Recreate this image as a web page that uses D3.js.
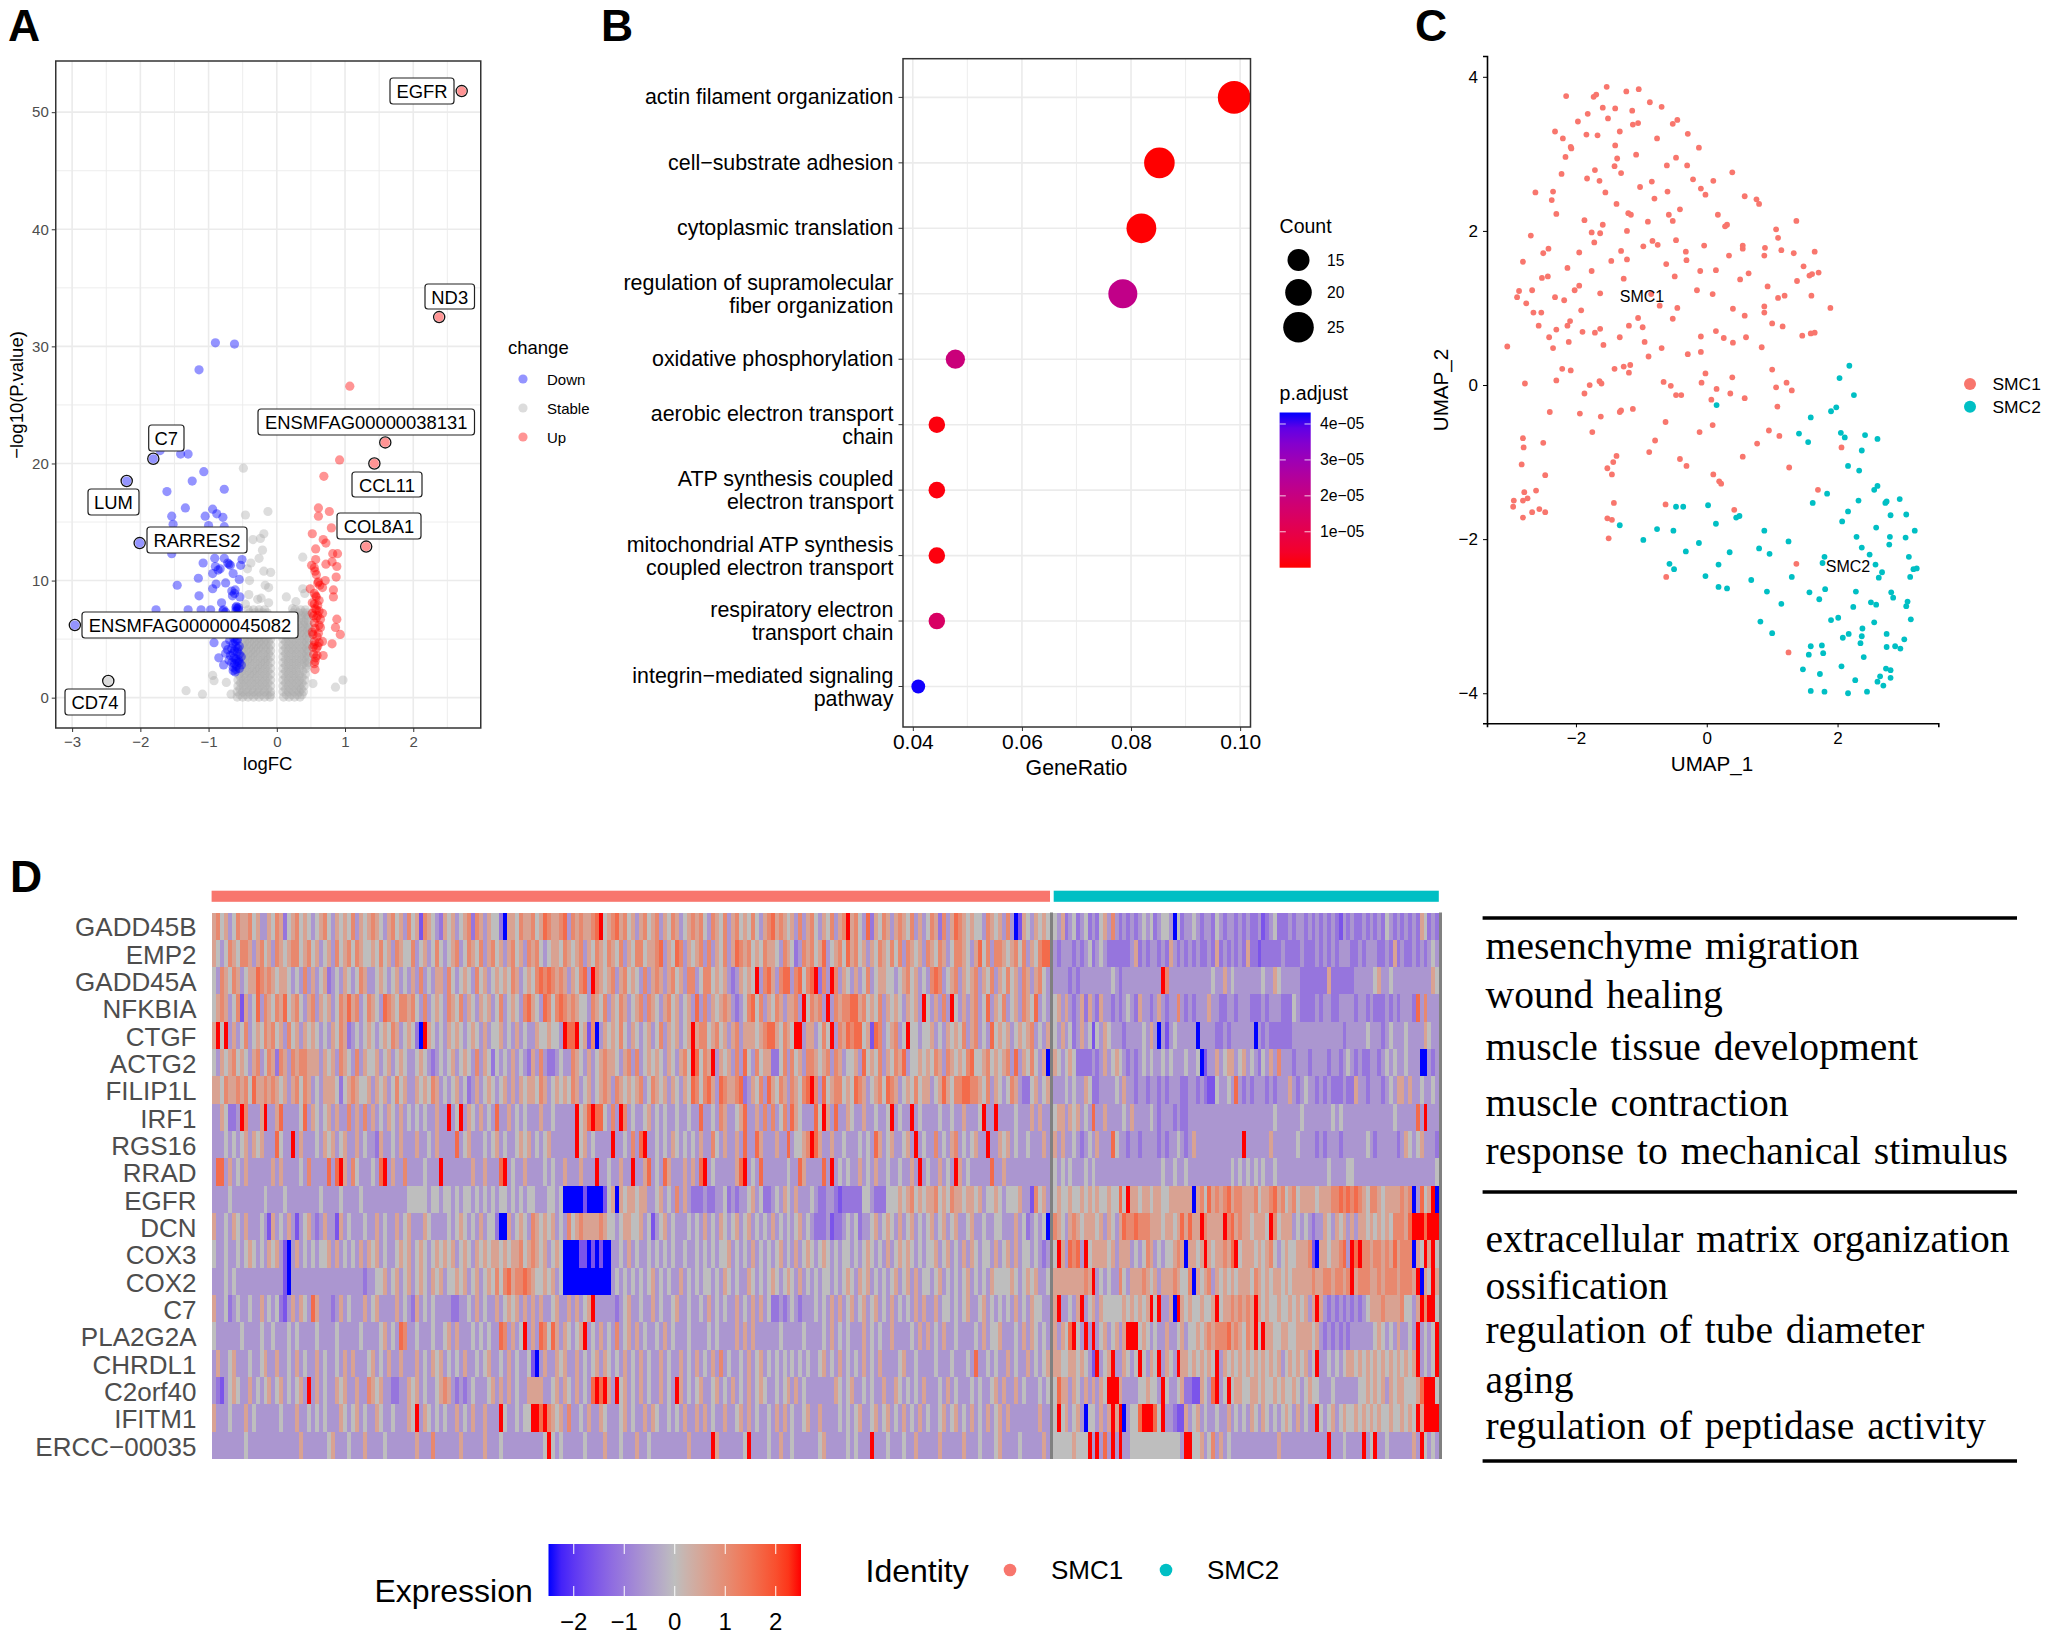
<!DOCTYPE html>
<html lang="en">
<head>
<meta charset="UTF-8">
<title>SMC panels</title>
<script src="https://d3js.org/d3.v7.min.js"></script>
<style>
    body { margin: 0; background: white; }
    svg { display: block; }
    text { font-family: "Liberation Sans", Arial, sans-serif; }
</style>
</head>
<body>
<svg id="fig" width="2050" height="1638"></svg>
<script>
// panel A: volcano, [logFC, -log10 p]
const volcanoDown = [[-0.90,30.3],[-0.62,30.2],[-1.14,28.0],[-1.71,21.1],[-1.41,20.8],[-1.30,20.8],[-1.07,19.3],[-1.24,18.5],[-0.77,17.8],[-1.61,17.6],[-1.34,16.2],[-0.94,16.1],[-0.88,15.7],[-1.05,15.5],[-1.54,15.5],[-0.79,15.4],[-1.52,14.8],[-1.00,14.7],[-0.77,14.6],[-1.54,12.3],[-0.91,11.9],[-0.77,11.9],[-0.51,11.8],[-1.08,11.5],[-0.90,11.2],[-0.70,11.4],[-0.53,11.3],[-0.94,10.6],[-0.64,10.6],[-1.15,10.2],[-0.55,10.1],[-1.46,9.6],[-0.89,9.7],[-0.75,9.8],[-0.94,9.3],[-0.61,9.2],[-0.65,8.7],[-1.14,8.7],[-0.54,8.6],[-0.81,8.1],[-0.59,7.8],[-1.77,7.5],[-1.30,7.5],[-1.11,7.5],[-0.97,7.5],[-0.78,7.5],[-0.58,7.6],[-0.92,4.7],[-0.75,4.5],[-0.61,4.8],[-0.55,4.4],[-0.75,3.8],[-0.64,3.8],[-0.85,3.4],[-0.52,3.5],[-0.70,3.2],[-0.58,3.1],[-0.78,2.8],[-0.64,2.6],[-0.52,2.8],[-0.61,2.2],
    [-0.83,11.0],[-0.86,10.9],[-0.68,11.3],[-0.72,11.5],[-0.66,9.1],[-0.62,8.9],[-0.60,7.7],[-0.56,7.7],[-0.60,7.4],[-0.56,7.5],[-0.79,7.4],[-0.75,7.3],[-0.58,4.9],[-0.64,4.6],[-0.60,4.4],[-0.57,4.2],[-0.66,4.2],[-0.62,4.0],[-0.58,3.9],[-0.55,3.7],[-0.68,3.6],[-0.63,3.4],[-0.60,3.3],[-0.56,3.2],[-0.66,3.0],[-0.62,2.9],[-0.59,2.7],[-0.55,2.5],[-0.60,2.4],[-0.64,2.3],[-0.58,5.0],[-0.63,5.1],[-0.69,4.9],[-0.72,4.1],[-0.55,3.0]];
const volcanoUp = [[1.07,26.6],[0.92,20.3],[0.69,18.9],[0.61,16.2],[0.77,15.9],[0.61,15.5],[0.80,14.5],[0.52,14.0],[0.68,13.5],[0.72,13.2],[0.57,12.7],[0.89,12.3],[0.82,12.3],[0.57,11.8],[0.81,11.6],[0.72,11.4],[0.51,11.3],[0.88,11.2],[0.56,10.8],[0.87,10.3],[0.61,9.9],[0.71,10.0],[0.49,9.3],[0.67,9.4],[0.55,8.9],[0.83,9.2],[0.83,8.6],[0.58,8.6],[0.52,8.1],[0.58,7.5],[0.67,7.2],[0.52,7.2],[0.58,6.8],[0.88,6.7],[0.64,6.0],[0.86,6.0],[0.52,5.6],[0.61,5.5],[0.93,5.4],[0.67,4.8],[0.81,4.6],[0.55,4.5],[0.60,4.4],[0.68,3.6],[0.57,3.4],[0.55,2.9],[0.56,2.4],
    [0.55,11.1],[0.58,10.5],[0.60,9.8],[0.63,9.6],[0.57,8.7],[0.62,8.3],[0.55,8.0],[0.60,7.9],[0.56,7.6],[0.62,7.4],[0.54,7.0],[0.60,7.0],[0.64,6.7],[0.55,6.4],[0.62,6.2],[0.56,5.9],[0.53,5.4],[0.59,5.2],[0.55,4.8],[0.62,4.7],[0.53,4.3],[0.58,4.2],[0.54,3.7],[0.59,3.6],[0.56,3.1]];
const volcanoStable = [[-0.49,19.6],[-0.13,15.9],[-0.46,15.6],[-0.19,14.0],[-0.24,13.6],[-0.35,13.5],[-0.21,12.6],[-0.26,11.9],[0.38,12.0],[-0.38,11.5],[-0.43,11.0],[-0.19,10.8],[-0.09,10.7],[-0.40,10.0],[-0.17,9.6],[-0.12,9.4],[-0.23,8.5],[-0.12,8.1],[-0.41,8.8],[-0.28,8.4],[-0.46,8.0],[0.14,8.6],[0.28,8.2],[0.38,9.3],[0.41,8.9],[0.23,7.6],[-0.94,1.9],[-0.92,1.45],[-0.74,1.3],[-1.33,0.6],[-1.09,0.3],[0.97,1.5],[0.86,0.9],[0.53,1.2],[-0.67,0.3]];
const stableLeftRows = [
    [0.05,-0.58,-0.50,-0.42,-0.34,-0.26,-0.18,-0.10],[0.25,-0.54,-0.46,-0.38,-0.30,-0.22,-0.14,-0.09],[0.5,-0.58,-0.50,-0.42,-0.34,-0.26,-0.18,-0.09],[0.75,-0.54,-0.45,-0.37,-0.29,-0.21,-0.13],
    [1,-0.57,-0.49,-0.41,-0.33,-0.25,-0.17,-0.09],[1.25,-0.53,-0.45,-0.37,-0.29,-0.21,-0.13],[1.5,-0.57,-0.49,-0.41,-0.33,-0.25,-0.17,-0.09],[1.75,-0.53,-0.45,-0.37,-0.29,-0.21,-0.13],
    [2,-0.56,-0.48,-0.40,-0.33,-0.25,-0.17,-0.09],[2.25,-0.52,-0.44,-0.36,-0.29,-0.21,-0.13],[2.5,-0.55,-0.48,-0.40,-0.32,-0.25,-0.17,-0.09],[2.75,-0.51,-0.44,-0.36,-0.28,-0.21,-0.13],
    [3,-0.54,-0.47,-0.40,-0.32,-0.24,-0.17,-0.09],[3.25,-0.50,-0.43,-0.36,-0.28,-0.20,-0.13],[3.5,-0.53,-0.46,-0.39,-0.32,-0.24,-0.16,-0.09],[3.75,-0.49,-0.42,-0.35,-0.28,-0.20,-0.12],
    [4,-0.52,-0.45,-0.38,-0.31,-0.24,-0.16,-0.09],[4.25,-0.48,-0.41,-0.34,-0.27,-0.20,-0.12],[4.5,-0.50,-0.44,-0.37,-0.30,-0.23,-0.16,-0.09],[4.75,-0.47,-0.40,-0.33,-0.26,-0.19,-0.12],
    [5,-0.49,-0.43,-0.36,-0.29,-0.23,-0.16,-0.09],[5.25,-0.45,-0.38,-0.32,-0.25,-0.19,-0.12],[5.5,-0.47,-0.41,-0.35,-0.28,-0.22,-0.16,-0.10],[5.75,-0.43,-0.37,-0.31,-0.24,-0.18,-0.12],
    [6,-0.46,-0.40,-0.34,-0.27,-0.21,-0.15,-0.10],[6.25,-0.42,-0.36,-0.30,-0.23,-0.17,-0.12],[6.5,-0.45,-0.38,-0.32,-0.26,-0.20,-0.15],[6.75,-0.41,-0.34,-0.28,-0.22,-0.16],
    [7,-0.44,-0.36,-0.30,-0.24,-0.18,-0.12],[7.25,-0.40,-0.32,-0.26,-0.20,-0.14],[7.5,-0.42,-0.34,-0.26,-0.18]];
const stableRightRows = [
    [0.05,0.10,0.18,0.26,0.34],[0.25,0.14,0.22,0.30,0.37],[0.5,0.09,0.17,0.25,0.33,0.39],[0.75,0.13,0.21,0.29,0.36],
    [1,0.09,0.17,0.25,0.33,0.40],[1.25,0.13,0.21,0.29,0.37],[1.5,0.09,0.17,0.25,0.33,0.41],[1.75,0.13,0.21,0.29,0.37],
    [2,0.09,0.17,0.25,0.33,0.42],[2.25,0.13,0.21,0.29,0.38],[2.5,0.09,0.17,0.25,0.33,0.43],[2.75,0.13,0.21,0.29,0.37,0.44],
    [3,0.09,0.17,0.25,0.33,0.41,0.46],[3.25,0.13,0.21,0.29,0.37,0.44],[3.5,0.09,0.17,0.25,0.33,0.41,0.46],[3.75,0.13,0.21,0.29,0.37,0.44],
    [4,0.09,0.17,0.25,0.33,0.41,0.46],[4.25,0.13,0.21,0.29,0.37,0.44],[4.5,0.09,0.17,0.25,0.33,0.41,0.47],[4.75,0.13,0.21,0.29,0.37,0.44],
    [5,0.09,0.17,0.25,0.33,0.41,0.47],[5.25,0.13,0.21,0.29,0.37,0.44],[5.5,0.10,0.18,0.26,0.34,0.41,0.47],[5.75,0.14,0.22,0.30,0.38,0.45],
    [6,0.12,0.20,0.28,0.35,0.42,0.47],[6.25,0.16,0.24,0.32,0.39,0.45],[6.5,0.15,0.24,0.32,0.40,0.46],[6.75,0.19,0.28,0.36,0.43],
    [7,0.20,0.28,0.36,0.42,0.46],[7.25,0.24,0.32,0.39,0.44],[7.5,0.27,0.35,0.42]];
const volcanoNames = ["EGFR","ND3","ENSMFAG00000038131","CCL11","COL8A1","C7","LUM","RARRES2","ENSMFAG00000045082","CD74"];
const volcanoNameX = [2.71,2.38,1.59,1.43,1.31,-1.81,-2.20,-2.01,-2.96,-2.47];
const volcanoNameY = [51.8,32.5,21.8,20.0,12.9,20.4,18.5,13.2,6.2,1.42];
const volcanoNameGroup = ["Up","Up","Up","Up","Up","Down","Down","Down","Down","Stable"];
const changeLevels = ["Down","Stable","Up"];

// panel B: enrichment
const goTerms = [["actin filament organization"],["cell\u2212substrate adhesion"],["cytoplasmic translation"],["regulation of supramolecular","fiber organization"],["oxidative phosphorylation"],["aerobic electron transport","chain"],["ATP synthesis coupled","electron transport"],["mitochondrial ATP synthesis","coupled electron transport"],["respiratory electron","transport chain"],["integrin\u2212mediated signaling","pathway"]];
const goRatio = [0.0989,0.0852,0.0819,0.0785,0.0478,0.0444,0.0444,0.0444,0.0444,0.0410];
const goCount = [29,25,24,23,14,13,13,13,13,12];
const goPadj = [0,0,0.02e-5,2.15e-5,1.9e-5,0.1e-5,0.1e-5,0.1e-5,1.45e-5,4.3e-5];
const countLegend = [15,20,25];
const padjTicks = [1e-5,2e-5,3e-5,4e-5];

// panel C: UMAP
const umapSmc1 = [[-1.53,3.87],[-1.04,3.84],[-1.23,3.81],[-2.15,3.75],[-1.69,3.77],[-1.73,3.74],[-0.87,3.67],[-0.69,3.61],[-1.59,3.60],[-1.40,3.59],[-1.14,3.56],[-1.82,3.52],[-1.51,3.46],[-1.97,3.42],[-0.45,3.44],[-0.52,3.39],[-1.05,3.40],[-1.13,3.38],[-1.33,3.29],[-2.32,3.29],[-1.84,3.25],[-1.67,3.24],[-0.29,3.26],[-2.20,3.20],[-0.76,3.20],[-1.40,3.11],[-0.12,3.08],[-2.08,3.09],[-2.07,3.07],[-1.08,2.99],[-2.16,2.96],[-1.37,2.94],[-0.47,2.95],[-0.61,2.85],[-0.30,2.85],[-1.41,2.84],[-1.71,2.79],[-1.31,2.75],[-2.22,2.74],[0.39,2.76],[-1.83,2.68],[-1.64,2.65],[-0.21,2.67],[0.10,2.65],[-0.84,2.64],[-1.02,2.57],[-0.09,2.55],[-2.62,2.50],[-2.35,2.51],[-1.55,2.50],[-0.60,2.51],[-0.02,2.47],[0.58,2.45],[-0.80,2.42],[0.76,2.41],[-2.37,2.40],[0.80,2.35],[-1.38,2.35],[-0.41,2.28],[-2.30,2.22],[-1.20,2.23],[-1.16,2.21],[-0.58,2.21],[0.17,2.21],[-1.87,2.14],[-0.52,2.13],[-0.90,2.12],[1.37,2.13],[-1.59,2.08],[0.31,2.08],[0.28,2.06],[1.06,2.02],[-1.22,2.00],[-1.76,1.98],[-1.63,1.97],[-2.69,1.94],[1.09,1.91],[-1.72,1.85],[-0.47,1.88],[-0.83,1.87],[-0.75,1.82],[-0.04,1.81],[-0.97,1.80],[0.55,1.81],[0.55,1.77],[0.89,1.78],[-2.42,1.77],[-1.31,1.74],[1.14,1.75],[-0.32,1.73],[1.65,1.73],[-1.95,1.72],[1.33,1.71],[-2.50,1.71],[0.34,1.68],[0.88,1.68],[-1.22,1.63],[-0.31,1.62],[-1.46,1.61],[-2.81,1.60],[-0.62,1.57],[1.48,1.54],[-2.13,1.52],[0.14,1.49],[-0.10,1.48],[-1.76,1.48],[1.71,1.46],[0.64,1.45],[1.61,1.44],[1.57,1.42],[-0.49,1.41],[-2.52,1.39],[-2.43,1.41],[-1.27,1.38],[0.51,1.37],[1.38,1.35],[-1.95,1.29],[0.93,1.28],[-2.02,1.23],[-2.67,1.23],[-0.15,1.23],[-2.87,1.22],[-1.63,1.19],[-0.85,1.18],[0.09,1.18],[1.19,1.16],[1.60,1.16],[-2.90,1.14],[-2.32,1.14],[1.09,1.13],[-2.18,1.10],[-2.76,1.06],[-0.72,1.03],[0.88,1.02],[-0.45,1.00],[1.89,1.00],[0.40,0.99],[-1.92,0.97],[-2.65,0.94],[-2.53,0.94],[0.88,0.94],[0.58,0.90],[-1.05,0.87],[-0.52,0.86],[-2.09,0.83],[1.00,0.80],[-2.57,0.77],[-1.19,0.77],[-2.13,0.77],[1.16,0.76],[-0.98,0.75],[-1.63,0.73],[-2.30,0.72],[0.14,0.70],[-1.90,0.69],[-1.71,0.68],[1.65,0.68],[1.59,0.67],[1.46,0.64],[-2.41,0.62],[-1.33,0.62],[-0.09,0.63],[0.26,0.61],[0.60,0.62],[-0.95,0.56],[0.40,0.55],[-2.11,0.56],[-1.58,0.52],[-3.05,0.50],[-2.35,0.48],[0.84,0.49],[-0.69,0.48],[-0.09,0.43],[-0.29,0.40],[-0.89,0.37],[-1.17,0.26],[-1.27,0.24],[-2.21,0.21],[-1.41,0.21],[1.00,0.20],[-2.08,0.19],[-1.19,0.16],[-0.02,0.15],[0.39,0.10],[-2.30,0.06],[-1.64,0.05],[-1.61,0.02],[-2.78,0.02],[-0.66,0.04],[-0.08,0.03],[1.22,0.03],[-1.79,0.00],[-0.55,-0.01],[1.06,-0.03],[0.15,-0.05],[1.30,-0.07],[0.36,-0.11],[-1.87,-0.11],[-0.47,-0.13],[-0.39,-0.13],[0.07,-0.19],[0.58,-0.17],[1.08,-0.28],[-1.13,-0.31],[-1.31,-0.33],[-1.33,-0.35],[-2.40,-0.35],[-1.94,-0.37],[-1.62,-0.41],[-0.63,-0.48],[0.09,-0.52],[0.95,-0.59],[-1.75,-0.61],[-0.11,-0.61],[1.11,-0.66],[-2.81,-0.69],[-0.79,-0.72],[-2.50,-0.75],[0.77,-0.76],[2.06,-0.81],[-2.80,-0.81],[-0.88,-0.87],[0.55,-0.93],[-1.38,-0.92],[-0.41,-0.96],[-1.43,-1.00],[-2.83,-1.03],[-0.31,-1.05],[1.26,-1.07],[-1.52,-1.08],[-1.45,-1.16],[-2.47,-1.17],[0.10,-1.16],[0.19,-1.25],[0.22,-1.28],[1.70,-1.36],[-2.61,-1.37],[-2.79,-1.39],[-2.74,-1.47],[-2.95,-1.50],[-2.81,-1.50],[-1.42,-1.53],[-0.63,-1.55],[-2.96,-1.58],[0.42,-1.62],[-2.56,-1.61],[-2.67,-1.65],[-2.47,-1.65],[-2.81,-1.72],[-1.52,-1.73],[-1.45,-1.75],[-1.50,-1.99],[1.37,-2.32],[-0.62,-2.49],[1.25,-3.47]];
const umapSmc2 = [[2.18,0.25],[2.03,0.09],[2.25,-0.13],[0.15,-0.26],[1.98,-0.29],[1.90,-0.34],[1.59,-0.42],[2.05,-0.62],[1.41,-0.63],[2.11,-0.68],[2.42,-0.65],[2.61,-0.70],[1.55,-0.74],[2.37,-0.85],[2.16,-1.05],[2.33,-1.11],[2.61,-1.31],[2.56,-1.36],[1.84,-1.41],[2.32,-1.50],[2.95,-1.48],[2.75,-1.51],[2.73,-1.53],[1.62,-1.53],[-0.47,-1.58],[-0.36,-1.58],[0.02,-1.56],[2.16,-1.64],[3.05,-1.68],[2.81,-1.69],[0.50,-1.70],[0.45,-1.72],[2.07,-1.77],[0.14,-1.80],[-1.33,-1.82],[-0.76,-1.87],[-0.51,-1.89],[2.59,-1.85],[0.88,-1.89],[3.18,-1.89],[2.29,-1.97],[2.80,-1.97],[3.04,-1.98],[-0.97,-2.01],[-0.12,-2.05],[1.25,-2.03],[2.79,-2.07],[2.37,-2.11],[0.80,-2.12],[-0.32,-2.16],[0.35,-2.17],[0.96,-2.19],[2.49,-2.20],[3.09,-2.23],[1.80,-2.23],[1.77,-2.31],[-0.57,-2.32],[0.18,-2.33],[2.58,-2.33],[-0.50,-2.39],[3.21,-2.38],[3.16,-2.39],[2.68,-2.43],[-0.02,-2.48],[2.63,-2.50],[3.11,-2.49],[1.30,-2.49],[0.68,-2.53],[0.18,-2.62],[0.31,-2.64],[1.81,-2.65],[0.92,-2.68],[1.57,-2.69],[2.28,-2.68],[2.82,-2.69],[2.85,-2.76],[1.72,-2.78],[1.14,-2.84],[2.51,-2.82],[2.59,-2.85],[3.07,-2.81],[3.05,-2.87],[2.24,-2.88],[2.01,-3.02],[1.90,-3.05],[3.12,-3.04],[0.82,-3.07],[2.56,-3.08],[2.38,-3.16],[1.00,-3.22],[2.75,-3.23],[2.17,-3.23],[2.08,-3.28],[2.37,-3.26],[3.02,-3.30],[2.35,-3.35],[1.76,-3.38],[1.59,-3.39],[2.75,-3.40],[2.88,-3.39],[2.96,-3.42],[1.78,-3.48],[1.56,-3.50],[2.40,-3.53],[2.06,-3.65],[2.74,-3.68],[2.81,-3.70],[1.47,-3.69],[1.73,-3.75],[2.65,-3.78],[2.81,-3.80],[2.27,-3.83],[2.61,-3.85],[2.70,-3.90],[1.59,-3.97],[1.80,-3.98],[2.45,-3.98],[2.16,-4.00]];

// panel D: heatmap, one digit per cell, see heatLevels
const heatGenes = ["GADD45B","EMP2","GADD45A","NFKBIA","CTGF","ACTG2","FILIP1L","IRF1","RGS16","RRAD","EGFR","DCN","COX3","COX2","C7","PLA2G2A","CHRDL1","C2orf40","IFITM1","ERCC\u221200035"];
const heatLevels = [-2.5,-1.6,-1.1,-0.6,0,0.6,1.1,1.6,2.5];
const heatSmc1 = [
"5645346556 4533546524 5645434564 3545463545 6543564536 4516543254 5345626535 4420554655 6457655673 6565567845 6756453564 5635465345 6564365463 5645464356 7565453635 6435463568 5643725465 3565463534 6526357654 5443654536 3015435454",
"5434654665 3564536545 6645645345 3645646544 5464536544 6345346434 5634654635 6453564536 5643455465 4563546546 5463546645 5673547635 4563635463 5765645465 5436542365 6457345647 5645354654 6463654536 5465346654 3574636654 5646354677",
"4365465345 5765654554 3436353452 3435434653 3454345343 5363435536 4345436453 4545465345 4676765653 5467386545 6356454363 5653564536 6346645453 2354548367 5367736746 7826386354 3534634554 4345645343 6763456354 5635463546 4536535643",
"4565346153 4736546574 5643563545 3465756346 5437654665 6436345436 5463543545 3463454367 5437646765 6544365463 5465345636 5435645345 3736354565 3234674635 4653556384 6563836566 7756454635 4543545384 3536384353 5634735463 4536547343",
"5848353463 4546564536 4535454343 5465234345 4345465345 4208543435 4543454353 4453435343 3544544387 7845160354 5464354345 3463545345 8566456453 5635554567 7546548835 5346483657 6774517634 5634844344 5343545463 5634374545 3454563435",
"4354564543 5634652653 6566555354 5365436354 4534534543 3454323434 5345436354 2434353432 5363223433 6543534565 5435636345 4543543564 8746583545 3637436455 2246364536 6545636534 4537454635 4657344545 4653654546 7445645456 3735464350",
"5546556564 7556565453 5646534355 5424565445 3545346453 3545465343 4534235345 4345353545 5465345454 6534534565 3654545634 6545354354 7646753765 5672354637 5465365467 8637456645 4765345647 6534546455 3457546677 6654635434 6532245345",
"3354223863 3358335733 3347354345 3533635363 5343543534 3434335338 3483543534 3733534343 3353343333 3845787743 6386343345 3434334334 3373343653 3457335363 6346375433 3748537335 4335334334 8343383433 3343343353 3348338333 3433353533",
"3334343453 5453337433 8353334354 5345335343 3253343533 3533435333 3734533343 4534334545 3434533333 3845343333 8334363783 3434354343 4353364353 3537337533 3533734456 8753353343 3343437534 5334538343 3634356343 4533833545 3433433353",
"3773534353 3333353533 3343633337 3785364333 4378353363 3334333833 3333353353 3378343353 3334343353 3353338334 3353383357 3437533353 5378343333 3578343733 3333433753 3337383434 3353435334 3343353834 3353438534 3333373353 3333333333",
"3333433333 3334333343 3333333433 3343333433 3333333334 4444344344 3434434343 4344343434 4333443400 0001000014 5054554553 3453436353 2223223342 3233453422 3435435333 4322332122 2224432224 4454564545 5645465545 5453445434 4453316453",
"5334354353 3343153435 3134532353 3153433343 3534335345 3335433334 3454343534 4200534543 6545453436 4565555654 4345544534 1345343334 3435343543 4534534343 5343434534 3222312234 3423345345 4353453434 5345345334 5334334433 3534234340",
"4334334345 4343545310 3534343445 3534343535 4534334545 3454345454 5345435454 5545455645 6545345400 0011010100 3343534334 3434343343 3434343445 3434353434 3453435345 4345434344 3434543435 3454543434 4534534353 5434435345 3534434323",
"3334343333 3333333310 3333333333 3333333323 3445345345 3454354534 4545345345 4646756676 5445453400 0000000000 3434343434 5343433534 3434434354 3433543434 5434543534 3434434345 4354534343 4534535344 3453434345 3434354444 5434545334",
"5334234334 3353434213 5354375333 2353433353 4533335343 2534343333 2233435343 3534545353 5353345335 3534583333 3234533433 5343345334 3343534343 3534353534 2232343233 3434353534 5345345343 5343435353 3534434345 3345343434 3534354433",
"4333333433 3343343334 3433334333 3433333433 3345343763 3433343345 3533343434 3376353483 5376475354 3458343534 3634535343 3435343334 3333434333 3535353333 3343333343 3334353434 3335343433 5333343535 3435334333 3435344533 3435354343",
"3533453334 3345335334 3534335343 3435353334 5343533533 3534354534 3435334345 3343534334 1035335453 3534345354 3435343534 3353433534 3534353634 3343534534 3434343434 3345343534 3435343533 3345334333 3433343334 3733434335 3433534345",
"3213454335 3434534534 3453835343 3545335336 5453322335 4534334565 3232343334 5353534335 5553345354 3534378785 3845343534 3353438534 3453345343 5343534543 3434535343 3333335434 5334343353 3543434353 3343534333 4343345353 3534333434",
"5333433353 4333333433 3533434343 3354345343 3543343335 4835434343 3534353353 3384334344 8878654536 3343533543 3345343353 5433434353 3535343353 3453534334 3535343345 3353333434 3453345345 3435343534 3345345343 5343534535 3333333533",
"3333333343 3333333333 3353333334 5333433353 3334333333 3533363333 3353333353 3343333333 3334843433 3334333353 3343335334 3333333335 3333385333 3334833334 3353343333 3345333334 3433383334 3334335333 3353333353 3343334533 3343333353"];
const heatSmc2 = [
"4352342342 3245363232 3234342344 3042334323 3243233232 3223123422 2323323232 3232132322 3232324323 2323254232",
"3233323234 2343222222 3523233232 5323232322 3252323232 5221222223 2222322232 3232333223 2333223252 3223232343",
"3333232333 3333343233 3333333386 3333333333 3433534333 3333433543 3333222222 2522222233 3334533433 3333333354",
"4535323525 3253323234 3253323532 3363232333 5332233233 3222323332 2243222232 3322333323 3232223232 3332736333",
"4353423534 1435433323 3334353031 3433333033 3322323333 3303232222 2233333333 3333323333 3433323433 3433335433",
"5434542222 3235345432 3234343343 4333433401 3353455345 3432435363 3323332333 3233234323 2233234343 3433300323",
"3334343354 2233334353 3233233232 3332233232 1143343732 3233323233 3532343323 2322232253 3233323435 5353343343",
"4553545343 7335333343 5333343233 3232233333 3333333333 3333333433 3333433333 3343433333 3333333343 3333738333",
"5353343234 3533374332 3323333232 3343235333 3333333338 3333335333 3334333323 2333233333 3432333332 3543453332",
"4343433343 4333333333 3333333343 3433433333 3333334343 4343433433 3333333333 3433334433 3333333333 3333333334",
"4544544545 4544544748 5545545544 5555550564 7565675665 5564556756 4564555545 5566767676 5466545555 6560374580",
"6543565455 5453543576 6766655545 5457575586 5555867565 5455548645 5534343233 5435453535 5454545466 6578887888",
"4853767384 5555453555 3434653434 4565055458 5455657845 5545456434 5445556105 5455673878 6656656575 6660548584",
"5555555565 8343433643 5556545355 5654460545 6354545455 5465454554 5455555655 6656656856 6655656665 6665805485",
"5833435834 5354444454 5454584833 5085454454 4584556565 6585454454 4545453585 3232323232 3455565555 6443586884",
"5354784383 8345345358 8845434335 3345344545 6566675654 6584855445 5445555453 2323232333 3334543435 3343834348",
"5544554543 1834583354 3484354835 4385545454 5483545454 5454545453 4545453483 3434345545 4545454545 4545834348",
"4755354353 5354888533 3344544384 3345221154 3783484554 4554544545 4454345443 3343333334 4545453545 5444578884",
"4845345304 4353585803 4478887483 3211534534 3343353434 3543543434 5435343384 3453454454 5454544544 5454858888",
"4444454448 3837383833 4444444444 4443884453 4635343333 3333333353 3333333333 3833343333 8348334333 3335384343"];
const expressionTicks = [-2,-1,0,1,2];
const pathwaysUpper = ["mesenchyme migration","wound healing","muscle tissue development","muscle contraction","response to mechanical stimulus"];
const pathwaysLower = ["extracellular matrix organization","ossification","regulation of tube diameter","aging","regulation of peptidase activity"];
const identities = ["SMC1","SMC2"];

const svg = d3.select("#fig");
const identityColor = d3.scaleOrdinal(identities, ["#F8766D","#00BFC4"]);
const intFormat = d3.format("d");

function label(g, x, y, str, size, anchor, fill) {
    return g.append("text").attr("x", x).attr("y", y).attr("font-size", size)
        .attr("text-anchor", anchor || "start").attr("dominant-baseline", "central")
        .attr("fill", fill || "black").text(str);
}

// panel letters
[["A",8,40.5],["B",601,40.5],["C",1415,40.5],["D",10,892]].forEach(d => {
    svg.append("text").attr("x", d[1]).attr("y", d[2]).attr("font-size", 44.5)
        .attr("font-weight", "bold").text(d[0]);
});

function styleAxis(g, size, color) {
    g.select(".domain").remove();
    g.selectAll("text").attr("font-size", size).attr("fill", color);
    g.selectAll("line").attr("stroke", "#333");
}

// ---- A
function drawVolcano() {
    const g = svg.append("g");
    const x = d3.scaleLinear([-3.24, 2.99], [55.75, 480.8]);
    const y = d3.scaleLinear([-2.59, 54.37], [728, 61]);

    d3.range(-3, 3, 0.5).forEach(v => g.append("line").attr("x1", x(v)).attr("x2", x(v))
        .attr("y1", y.range()[0]).attr("y2", y.range()[1]).attr("stroke", "#ebebeb")
        .attr("stroke-width", Number.isInteger(v) ? 1.6 : 0.9));
    d3.range(0, 51, 5).forEach(v => g.append("line").attr("x1", x.range()[0]).attr("x2", x.range()[1])
        .attr("y1", y(v)).attr("y2", y(v)).attr("stroke", "#ebebeb")
        .attr("stroke-width", v % 10 == 0 ? 1.6 : 0.9));

    const stable = volcanoStable.slice();
    stableLeftRows.concat(stableRightRows).forEach(r => r.slice(1).forEach(v => stable.push([v, r[0]])));
    const dots = (data, color, op) => g.append("g").selectAll("circle").data(data).join("circle")
        .attr("cx", d => x(d[0])).attr("cy", d => y(d[1])).attr("r", 4.6)
        .attr("fill", color).attr("fill-opacity", op);
    dots(stable, "#ababab", 0.4);
    dots(volcanoDown, "#0000ff", 0.42);
    dots(volcanoUp, "#ff0000", 0.42);

    const groupColor = {Down: "#0000ff", Stable: "#ababab", Up: "#ff0000"};
    volcanoNames.forEach((n, i) => {
        g.append("circle").attr("cx", x(volcanoNameX[i])).attr("cy", y(volcanoNameY[i])).attr("r", 5.6)
            .attr("fill", "white").attr("stroke", "#111").attr("stroke-width", 1.3);
        g.append("circle").attr("cx", x(volcanoNameX[i])).attr("cy", y(volcanoNameY[i])).attr("r", 4.6)
            .attr("fill", groupColor[volcanoNameGroup[i]]).attr("fill-opacity", 0.42);
    });

    // label boxes sit where ggrepel put them: x0, x1, y0, y1 in page pixels
    const boxes = [[390,454,78,104],[425,474.5,284,309],[258,474.5,409,435],[352,422,472,497],[337,421,513,539],[148.7,184,425,451],[88,139,489,515],[147,247,527,553],[82,298,612,638],[65,125,689,715]];
    volcanoNames.forEach((n, i) => {
        const b = boxes[i];
        g.append("rect").attr("x", b[0]).attr("y", b[2]).attr("width", b[1] - b[0]).attr("height", b[3] - b[2])
            .attr("rx", 3).attr("fill", "white").attr("stroke", "#222").attr("stroke-width", 1.2);
        label(g, (b[0] + b[1]) / 2, (b[2] + b[3]) / 2 + 0.5, n, 18.4, "middle");
    });

    g.append("rect").attr("x", 55.75).attr("y", 61).attr("width", 425).attr("height", 667)
        .attr("fill", "none").attr("stroke", "#333").attr("stroke-width", 1.5);

    g.append("g").attr("transform", "translate(0,728)")
        .call(d3.axisBottom(x).tickValues([-3,-2,-1,0,1,2]).tickFormat(intFormat).tickSize(4).tickPadding(4))
        .call(a => styleAxis(a, 15, "#4d4d4d"));
    g.append("g").attr("transform", "translate(55.75,0)")
        .call(d3.axisLeft(y).tickValues([0,10,20,30,40,50]).tickFormat(intFormat).tickSize(4).tickPadding(3))
        .call(a => styleAxis(a, 15, "#4d4d4d"));

    label(g, 267.7, 763, "logFC", 18.5, "middle");
    label(g, 0, 0, "\u2212log10(P.value)", 18.5, "middle").attr("transform", "translate(16,395) rotate(-90)");

    label(g, 508, 347, "change", 18.5);
    const legendY = d3.scalePoint(changeLevels, [379, 437]);
    changeLevels.forEach(c => {
        g.append("circle").attr("cx", 523).attr("cy", legendY(c)).attr("r", 4.6)
            .attr("fill", groupColor[c]).attr("fill-opacity", 0.42);
        label(g, 547, legendY(c), c, 15);
    });
}

// ---- B
function drawDotplot() {
    const g = svg.append("g");
    const x = d3.scaleLinear([0.0382, 0.1019], [903, 1250.5]);
    const y = d3.scalePoint(d3.range(goTerms.length), [97.4, 686.5]);
    const r = d3.scaleLinear([12,15,20,25,29], [6.9,11,13.3,15.3,16.3]);
    const color = d3.scaleLinear([0, 4.32e-5], ["#ff0000", "#0000ff"]).interpolate(d3.interpolateLab);

    d3.range(0.04, 0.101, 0.01).forEach((v, i) => g.append("line").attr("x1", x(v)).attr("x2", x(v))
        .attr("y1", 58.7).attr("y2", 727).attr("stroke", "#ebebeb").attr("stroke-width", i % 2 ? 0.9 : 1.6));
    goTerms.forEach((t, i) => g.append("line").attr("x1", 903).attr("x2", 1250.5)
        .attr("y1", y(i)).attr("y2", y(i)).attr("stroke", "#ebebeb").attr("stroke-width", 1.6));

    g.append("g").selectAll("circle").data(goRatio).join("circle")
        .attr("cx", d => x(d)).attr("cy", (d, i) => y(i)).attr("r", (d, i) => r(goCount[i]))
        .attr("fill", (d, i) => color(goPadj[i]));

    g.append("rect").attr("x", 903).attr("y", 58.7).attr("width", 347.5).attr("height", 668.3)
        .attr("fill", "none").attr("stroke", "#333").attr("stroke-width", 1.5);

    goTerms.forEach((t, i) => {
        g.append("line").attr("x1", 898.5).attr("x2", 903).attr("y1", y(i)).attr("y2", y(i)).attr("stroke", "#333");
        if (t.length == 1) label(g, 893.4, y(i), t[0], 21.4, "end");
        else {
            label(g, 893.4, y(i) - 11, t[0], 21.4, "end");
            label(g, 893.4, y(i) + 12, t[1], 21.4, "end");
        }
    });

    g.append("g").attr("transform", "translate(0,727)")
        .call(d3.axisBottom(x).tickValues([0.04,0.06,0.08,0.10]).tickFormat(d3.format(".2f")).tickSize(4).tickPadding(3.5))
        .call(a => styleAxis(a, 21, "black"));
    label(g, 1076.5, 767.5, "GeneRatio", 21.3, "middle");

    label(g, 1279.6, 226, "Count", 19.5);
    const legendY = d3.scaleOrdinal(countLegend, [260, 292.4, 327.2]);
    countLegend.forEach(c => {
        g.append("circle").attr("cx", 1298.5).attr("cy", legendY(c)).attr("r", r(c)).attr("fill", "black");
        label(g, 1327, legendY(c), c, 15.6);
    });

    label(g, 1279.6, 393, "p.adjust", 19.5);
    const defs = svg.append("defs");
    const grad = defs.append("linearGradient").attr("id", "padjGrad").attr("x1", 0).attr("x2", 0).attr("y1", 1).attr("y2", 0);
    d3.range(0, 1.01, 0.1).forEach(t => grad.append("stop").attr("offset", t)
        .attr("stop-color", color(t * 4.32e-5)));
    g.append("rect").attr("x", 1279.6).attr("y", 412.5).attr("width", 31.1).attr("height", 155.2).attr("fill", "url(#padjGrad)");
    const py = d3.scaleLinear([0, 4.32e-5], [567.7, 412.5]);
    padjTicks.forEach(v => {
        [[1279.6, 1285.8], [1304.5, 1310.7]].forEach(p => g.append("line").attr("x1", p[0]).attr("x2", p[1])
            .attr("y1", py(v)).attr("y2", py(v)).attr("stroke", "white").attr("stroke-opacity", 0.8));
        label(g, 1320, py(v), d3.format(".0e")(v).replace("e-", "e\u22120"), 15.8);
    });
}

// ---- C
function drawUmap() {
    const g = svg.append("g");
    const x = d3.scaleLinear([-3.36, 3.54], [1487, 1938.3]);
    const y = d3.scaleLinear([-4.39, 4.27], [723.3, 56]);

    [[umapSmc1, "SMC1"], [umapSmc2, "SMC2"]].forEach(s => {
        g.append("g").selectAll("circle").data(s[0]).join("circle")
            .attr("cx", d => x(d[0])).attr("cy", d => y(d[1])).attr("r", 2.9)
            .attr("fill", identityColor(s[1]));
    });

    const ax = g.append("g").attr("transform", "translate(0,723.3)")
        .call(d3.axisBottom(x).tickValues([-2,0,2]).tickFormat(intFormat).tickSize(4).tickPadding(5));
    const ay = g.append("g").attr("transform", "translate(1487,0)")
        .call(d3.axisLeft(y).tickValues([-4,-2,0,2,4]).tickFormat(intFormat).tickSize(4).tickPadding(5));
    [ax, ay].forEach(a => {
        a.selectAll("text").attr("font-size", 17).attr("fill", "black");
        a.select(".domain").attr("stroke", "black").attr("stroke-width", 1.6);
        a.selectAll("line").attr("stroke", "black");
    });

    label(g, 1712, 763, "UMAP_1", 20.6, "middle");
    label(g, 0, 0, "UMAP_2", 20.6, "middle").attr("transform", "translate(1440,390) rotate(-90)");
    label(g, 1642, 296, "SMC1", 16, "middle");
    label(g, 1848, 566, "SMC2", 16, "middle");

    const legendY = d3.scaleOrdinal(identities, [384, 406.7]);
    identities.forEach(id => {
        g.append("circle").attr("cx", 1970).attr("cy", legendY(id)).attr("r", 6).attr("fill", identityColor(id));
        label(g, 1992.5, legendY(id), id, 17.4);
    });
}

// ---- D
function drawHeatmap() {
    const g = svg.append("g");
    const color = d3.scaleLinear([-2.5, 0, 2.5], ["#0000ff", "#bebebe", "#ff0000"]).interpolate(d3.interpolateLab);
    const top = 912.5, bottom = 1459;
    const rowY = d3.scaleBand(heatGenes, [top, bottom]);

    const cols = g.append("g").attr("shape-rendering", "crispEdges");
    const drawGroup = (rows, x0, x1) => {
        rows.forEach((str, r) => {
            const cells = str.replace(/ /g, "").split("").map(c => heatLevels[+c]);
            const cx = d3.scaleLinear([0, cells.length], [x0, x1]);
            cols.append("g").selectAll("rect").data(cells).join("rect")
                .attr("x", (d, i) => cx(i)).attr("width", (d, i) => cx(i + 1) - cx(i) + 0.3)
                .attr("y", rowY(heatGenes[r])).attr("height", rowY.bandwidth() + 0.3)
                .attr("fill", d => color(d));
        });
    };
    drawGroup(heatSmc1, 211.6, 1050);
    drawGroup(heatSmc2, 1053, 1439);

    g.append("rect").attr("x", 1050).attr("y", top).attr("width", 3).attr("height", bottom - top).attr("fill", "#808080");
    g.append("rect").attr("x", 1439).attr("y", top).attr("width", 3).attr("height", bottom - top).attr("fill", "#808080");

    g.append("rect").attr("x", 211.6).attr("y", 890.7).attr("width", 838.4).attr("height", 11.1).attr("fill", identityColor("SMC1"));
    g.append("rect").attr("x", 1053.7).attr("y", 890.7).attr("width", 385.1).attr("height", 11.1).attr("fill", identityColor("SMC2"));

    heatGenes.forEach(n => label(g, 196.5, rowY(n) + rowY.bandwidth() / 2 + 1.2, n, 26, "end", "#4d4d4d"));

    // expression legend
    const lx = d3.scaleLinear([-2.5, 2.5], [548.5, 801]);
    const grad = svg.select("defs").append("linearGradient").attr("id", "exprGrad");
    d3.range(-2.5, 2.51, 0.25).forEach(v => grad.append("stop").attr("offset", (v + 2.5) / 5).attr("stop-color", color(v)));
    g.append("rect").attr("x", 548.5).attr("y", 1544).attr("width", 252.5).attr("height", 52).attr("fill", "url(#exprGrad)");
    expressionTicks.forEach(v => {
        [[1544, 1554], [1586, 1596]].forEach(p => g.append("line").attr("x1", lx(v)).attr("x2", lx(v))
            .attr("y1", p[0]).attr("y2", p[1]).attr("stroke", "white"));
        label(g, lx(v), 1621, intFormat(v), 24, "middle");
    });
    label(g, 374.5, 1591, "Expression", 32);
    label(g, 865.5, 1571, "Identity", 32);
    const idX = d3.scaleOrdinal(identities, [1010, 1166]);
    identities.forEach(id => {
        g.append("circle").attr("cx", idX(id)).attr("cy", 1570).attr("r", 6.3).attr("fill", identityColor(id));
        label(g, idX(id) + 41, 1570, id, 26);
    });

    // pathway table
    [918, 1192, 1461].forEach(v => g.append("line").attr("x1", 1482.6).attr("x2", 2017)
        .attr("y1", v).attr("y2", v).attr("stroke", "black").attr("stroke-width", 3.4));
    const base = pathwaysUpper.concat(pathwaysLower);
    const baselines = [959, 1007.5, 1060, 1116, 1163.5, 1251.5, 1298.5, 1342.5, 1392.5, 1439];
    base.forEach((t, i) => g.append("text").attr("x", 1485.6).attr("y", baselines[i])
        .style("font-family", '"Liberation Serif", serif').attr("font-size", 39.6).attr("word-spacing", 3).text(t));
}

svg.append("defs");
drawVolcano();
drawDotplot();
drawUmap();
drawHeatmap();
</script>
</body>
</html>
